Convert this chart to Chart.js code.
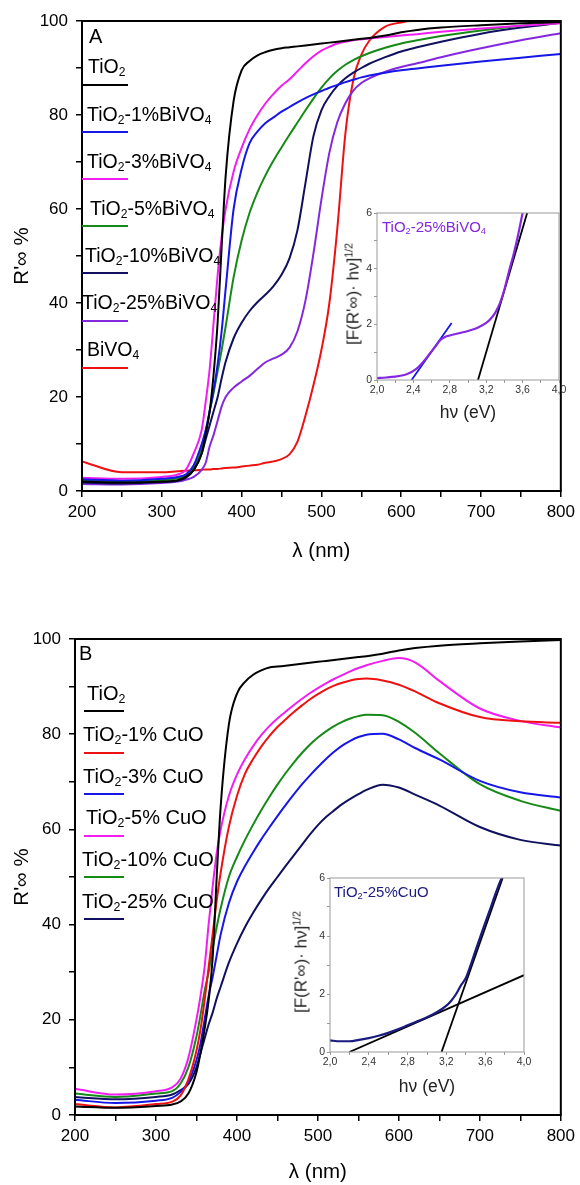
<!DOCTYPE html>
<html lang="es">
<head>
<meta charset="utf-8">
<title>Reflectancia difusa TiO2-BiVO4 y TiO2-CuO</title>
<script src="https://cdn.jsdelivr.net/npm/chart.js@4.4.1/dist/chart.umd.min.js"></script>
<style>
  html, body { margin: 0; padding: 0; background: #fff; }
  #lienzo { position: relative; width: 580px; height: 1185px; overflow: hidden;
            font-family: "Liberation Sans", Arial, Helvetica, sans-serif; color: #000; }
  #lienzo canvas { position: absolute; }
  .txt { position: absolute; white-space: nowrap; line-height: 1; }
  .txt sub { font-size: 0.62em; vertical-align: -0.22em; line-height: 0; }
  .txt sup { font-size: 0.62em; vertical-align: 0.55em; line-height: 0; }
  .rot { transform: translate(-50%, -50%) rotate(-90deg); }
  .linea { position: absolute; height: 2px; }
</style>
</head>
<body>
<div id="lienzo">
  <canvas id="panelA"></canvas>
  <canvas id="insetA"></canvas>
  <canvas id="panelB"></canvas>
  <canvas id="insetB"></canvas>
</div>
<script>
// Longitudes de onda (nm) comunes a todas las curvas de reflectancia
const longitudOnda = [200, 250, 300, 320, 330, 340, 350, 355, 360, 365, 370, 375, 380, 390, 400, 410, 420, 430, 440, 450,
                      460, 470, 480, 490, 500, 510, 520, 530, 540, 550, 560, 580, 600, 620, 650, 700, 750, 800];

// Panel A: TiO2 - BiVO4 (R'oo %)
const a_TiO2   = [2.0, 1.8, 2.0, 2.3, 3.0, 4.5, 8, 12, 17, 25, 36, 52, 67, 83, 89.5, 91.5, 92.7, 93.4, 93.9, 94.2,
                  94.4, 94.6, 94.8, 95.0, 95.2, 95.4, 95.6, 95.8, 96.0, 96.2, 96.4, 96.9, 97.6, 98.1, 98.6, 99.1, 99.5, 99.8];
const a_Bi1    = [2.5, 2.2, 2.6, 3.0, 3.5, 5.5, 10, 13, 17, 21.5, 27, 34, 43, 60, 68.5, 74, 76.5, 78.3, 79.5, 80.7,
                  81.7, 82.7, 83.6, 84.4, 85.1, 85.8, 86.4, 87.0, 87.5, 88.0, 88.4, 89.0, 89.5, 89.9, 90.5, 91.4, 92.2, 93.0];
const a_Bi3    = [2.8, 2.6, 3.0, 3.5, 4.5, 8, 13, 19, 26, 36, 46, 54, 60, 68, 73, 77, 80, 82.5, 84.5, 86.2,
                  87.6, 89.3, 91.0, 92.5, 93.7, 94.5, 95.2, 95.6, 95.9, 96.1, 96.3, 96.6, 96.9, 97.2, 97.7, 98.4, 99.0, 99.5];
const a_Bi5    = [2.3, 2.0, 2.3, 2.7, 3.2, 5, 9, 12.5, 17, 21, 25.5, 30, 35, 45.5, 53.3, 59.2, 63.6, 67.2, 70.3, 73.1,
                  75.8, 78.4, 81, 83.5, 85.8, 87.8, 89.4, 90.7, 91.7, 92.5, 93.2, 94.3, 95.2, 95.9, 96.8, 98.0, 99.0, 99.8];
const a_Bi10   = [1.8, 1.6, 1.9, 2.2, 2.8, 4.5, 8, 11, 14, 17, 20, 24, 27.5, 32.5, 35.8, 38.3, 40.2, 41.8, 43.6, 46,
                  49.5, 55.5, 65.5, 75.5, 81, 84, 86.2, 87.8, 89, 90, 90.9, 92.3, 93.5, 94.4, 95.6, 97.3, 98.6, 99.6];
const a_Bi25   = [1.5, 1.4, 1.7, 2.0, 2.4, 3, 4.5, 6, 9.5, 12, 15, 18, 20, 22, 23.3, 24.5, 26, 27.4, 28.2, 29,
                  30.5, 34, 40.5, 50.5, 62, 72, 78.5, 82.5, 85.2, 86.8, 87.8, 89.2, 90.2, 91, 92.3, 94.2, 95.9, 97.4];
const a_BiVO4  = [6.3, 4.0, 4.0, 4.2, 4.3, 4.4, 4.5, 4.6, 4.6, 4.7, 4.7, 4.8, 4.9, 5.0, 5.2, 5.4, 5.6, 6.0, 6.3, 6.8,
                  7.8, 10.5, 16, 22.5, 30, 40, 56, 76, 87.5, 92.8, 95.8, 98.8, 99.7, 100.2, null, null, null, null];

// Panel B: TiO2 - CuO (R'oo %)
const b_TiO2   = [1.8, 1.5, 1.9, 2.2, 2.8, 4.5, 9, 13, 18, 24, 33, 50, 65, 82, 88.5, 91, 92.5, 93.4, 94.0, 94.2,
                  94.4, 94.6, 94.8, 95.0, 95.2, 95.4, 95.6, 95.8, 96.0, 96.2, 96.4, 96.9, 97.6, 98.1, 98.6, 99.1, 99.5, 99.8];
const b_Cu1    = [2.3, 1.6, 2.3, 2.8, 4, 7.5, 13.5, 18, 24, 31, 38, 45, 51, 60.5, 67, 71.7, 74.8, 77.4, 79.6, 81.5,
                  83.1, 84.6, 86, 87.3, 88.4, 89.4, 90.2, 90.8, 91.3, 91.6, 91.7, 91.3, 90.4, 89, 86.5, 83.6, 82.7, 82.4];
const b_Cu3    = [3.2, 2.5, 3.0, 3.6, 4.8, 7, 11.5, 15, 20, 25, 29, 33.5, 38, 44.5, 49, 52.3, 55.2, 57.9, 60.4, 62.8,
                  65.1, 67.3, 69.4, 71.3, 73.1, 74.8, 76.3, 77.6, 78.6, 79.4, 79.9, 80.1, 78.9, 77.1, 74.7, 70.2, 67.8, 66.7];
const b_Cu5    = [5.5, 4.3, 5.0, 5.8, 7.5, 12, 20, 25, 31, 40, 48, 55, 60, 67, 71.5, 74.8, 77.5, 79.8, 81.7, 83.3,
                  84.7, 86.1, 87.4, 88.6, 89.7, 90.7, 91.6, 92.4, 93.2, 93.9, 94.5, 95.4, 96, 95.1, 91.2, 85.4, 82.8, 81.4];
const b_Cu10   = [4.5, 3.8, 4.5, 5.0, 6.5, 10, 16.5, 21, 26, 30, 35, 39.5, 43.5, 50, 54.2, 57.8, 61, 64, 66.8, 69.4,
                  71.8, 74, 76, 77.8, 79.3, 80.6, 81.7, 82.6, 83.3, 83.8, 84.1, 84, 82.6, 80.3, 76, 69.5, 66, 63.9];
const b_Cu25   = [3.8, 3.3, 3.8, 4.3, 5.2, 6.5, 10, 13, 16, 19, 21.5, 24.5, 27, 32, 36, 39.5, 42.5, 45.2, 47.7, 50,
                  52.3, 54.5, 56.7, 58.9, 60.9, 62.6, 64, 65.3, 66.4, 67.4, 68.3, 69.4, 68.8, 67.3, 65, 60.5, 57.8, 56.6];

const nombresA = ['TiO2', 'TiO2-1%BiVO4', 'TiO2-3%BiVO4', 'TiO2-5%BiVO4', 'TiO2-10%BiVO4', 'TiO2-25%BiVO4', 'BiVO4'];
const coloresA = ['#000000', '#1616e6', '#f01ef0', '#168a16', '#10105e', '#8428e0', '#ee1111'];
const nombresB = ['TiO2', 'TiO2-1% CuO', 'TiO2-3% CuO', 'TiO2-5% CuO', 'TiO2-10% CuO', 'TiO2-25% CuO'];
const coloresB = ['#000000', '#ee1111', '#1616e6', '#f01ef0', '#168a16', '#10105e'];

// Ejes principales
const ticksLongitud = [200, 300, 400, 500, 600, 700, 800];
const ticksR = [0, 20, 40, 60, 80, 100];

// Insets: [F(R'oo)·hv]^1/2 frente a hv (eV)
const hvA = [2.0, 2.1, 2.2, 2.3, 2.35, 2.4, 2.45, 2.5, 2.55, 2.6, 2.65, 2.7, 2.75, 2.8, 2.9, 3.0, 3.1, 3.2, 3.25,
             3.3, 3.35, 3.4, 3.45, 3.5, 3.55, 3.6];
const kmA = [0.07, 0.09, 0.12, 0.18, 0.24, 0.33, 0.45, 0.62, 0.82, 1.03, 1.24, 1.45, 1.55, 1.6, 1.68, 1.76, 1.87,
             2.05, 2.2, 2.42, 2.75, 3.25, 3.9, 4.5, 5.2, 6.0];
const tangenteA1_hv = [2.38, 2.82];
const tangenteA1_km = [0, 2.05];
const tangenteA2_hv = [3.11, 3.65];
const tangenteA2_km = [0, 6];

const hvB = [2.0, 2.1, 2.2, 2.3, 2.4, 2.5, 2.6, 2.7, 2.8, 2.9, 3.0, 3.1, 3.2, 3.25, 3.3, 3.35, 3.4, 3.45, 3.5,
             3.55, 3.6, 3.65, 3.7, 3.75, 3.77];
const kmB = [0.4, 0.37, 0.37, 0.42, 0.48, 0.56, 0.66, 0.78, 0.92, 1.06, 1.2, 1.37, 1.6, 1.77, 2.0, 2.3, 2.55, 3.0,
             3.5, 3.98, 4.45, 4.92, 5.4, 5.85, 6.0];
const tangenteB1_hv = [2.2, 4.0];
const tangenteB1_km = [0, 2.65];
const tangenteB2_hv = [3.15, 3.78];
const tangenteB2_km = [0, 6];

const ticksHv = ['2,0', '2,4', '2,8', '3,2', '3,6', '4,0'];
const ticksKm = [0, 2, 4, 6];

const FUENTE = '"Liberation Sans", Arial, Helvetica, sans-serif';
Chart.defaults.font.family = FUENTE;
Chart.defaults.color = '#000';

// Marco completo alrededor del area de trazado
const marcoPlugin = {
    id: 'marco',
    afterDatasetsDraw(chart, args, opts) {
        const { ctx, chartArea: a } = chart;
        ctx.save();
        ctx.strokeStyle = opts.color || '#000';
        ctx.lineWidth = opts.width || 1;
        ctx.strokeRect(a.left, a.top, a.right - a.left, a.bottom - a.top);
        ctx.restore();
    }
};
Chart.register(marcoPlugin);

function ubicarCanvas(id, left, top, width, height) {
    const c = document.getElementById(id);
    c.width = width;
    c.height = height;
    c.style.left = left + 'px';
    c.style.top = top + 'px';
    c.style.width = width + 'px';
    c.style.height = height + 'px';
    return c;
}

function puntos(xs, ys) {
    return xs.map((x, i) => ({ x: x, y: ys[i] }));
}

function graficoPrincipal(canvas, series, nombres, colores, caja) {
    return new Chart(canvas, {
        type: 'line',
        data: {
            datasets: series.map((serie, i) => ({
                label: nombres[i],
                data: puntos(longitudOnda, serie),
                borderColor: colores[i],
                borderWidth: 2,
                pointRadius: 0,
                fill: false,
                cubicInterpolationMode: 'monotone',
                spanGaps: false
            }))
        },
        options: {
            responsive: false,
            animation: false,
            events: [],
            layout: { padding: { top: caja.top, right: caja.right, left: 0, bottom: 0 } },
            plugins: {
                legend: { display: false },
                tooltip: { enabled: false },
                marco: { color: '#000', width: 2 }
            },
            scales: {
                x: {
                    type: 'linear', min: 200, max: 800,
                    afterFit: s => { s.height = caja.xAltura; },
                    border: { display: false },
                    grid: { drawOnChartArea: false, drawTicks: true, tickLength: 6, color: '#000', lineWidth: 1.5 },
                    ticks: {
                        stepSize: 50, maxRotation: 0, autoSkip: false, padding: 5,
                        font: { size: 17 },
                        callback: v => ticksLongitud.includes(v) ? String(v) : ''
                    },
                    title: {
                        display: true, text: 'λ (nm)', font: { size: 20.5 },
                        padding: { top: 0, bottom: caja.tituloX }
                    }
                },
                y: {
                    type: 'linear', min: 0, max: 100,
                    afterFit: s => { s.width = caja.yAncho; },
                    border: { display: false },
                    grid: { drawOnChartArea: false, drawTicks: true, tickLength: 6, color: '#000', lineWidth: 1.5 },
                    ticks: {
                        stepSize: 10, autoSkip: false, padding: 8,
                        font: { size: 17 },
                        callback: v => ticksR.includes(v) ? String(v) : ''
                    },
                    title: {
                        display: true, text: "R'∞ %", font: { size: 20.5 },
                        padding: { top: 10, bottom: 0 }
                    }
                }
            }
        }
    });
}

function graficoInset(canvas, curva, colorCurva, tangentes, caja) {
    const datasets = [{
        data: puntos(curva.hv, curva.km),
        borderColor: colorCurva,
        borderWidth: 2.2,
        pointRadius: 0,
        cubicInterpolationMode: 'monotone'
    }];
    tangentes.forEach(t => {
        datasets.push({
            data: puntos(t.hv, t.km),
            borderColor: t.color,
            borderWidth: 1.8,
            pointRadius: 0
        });
    });
    return new Chart(canvas, {
        type: 'line',
        data: { datasets: datasets },
        options: {
            responsive: false,
            animation: false,
            events: [],
            layout: { padding: { top: caja.top, right: caja.right, left: 0, bottom: 0 } },
            plugins: {
                legend: { display: false },
                tooltip: { enabled: false },
                marco: { color: '#9a9a9a', width: 1 }
            },
            scales: {
                x: {
                    type: 'linear', min: 2, max: 4,
                    afterFit: s => { s.height = caja.xAltura; },
                    border: { display: false },
                    grid: { drawOnChartArea: false, drawTicks: true, tickLength: 3, color: '#9a9a9a' },
                    ticks: {
                        stepSize: 0.2, maxRotation: 0, autoSkip: false, padding: 1,
                        color: '#333', font: { size: 10.5 },
                        callback: v => {
                            const k = Math.round((v - 2) * 10);
                            return k % 4 === 0 ? ticksHv[k / 4] : '';
                        }
                    },
                    title: {
                        display: true, text: 'hν (eV)', font: { size: 17.5 }, color: '#222',
                        padding: { top: 0, bottom: caja.tituloX }
                    }
                },
                y: {
                    type: 'linear', min: 0, max: 6,
                    afterFit: s => { s.width = caja.yAncho; },
                    border: { display: false },
                    grid: { drawOnChartArea: false, drawTicks: true, tickLength: 3, color: '#9a9a9a' },
                    ticks: {
                        stepSize: 1, autoSkip: false, padding: 2,
                        color: '#333', font: { size: 10.5 },
                        callback: v => ticksKm.includes(v) ? String(v) : ''
                    }
                }
            }
        }
    });
}

// Texto con subindices (TiO2 -> TiO<sub>2</sub>)
function formula(s) {
    return s.replace(/([A-Za-z])(\d)/g, '$1<sub>$2</sub>');
}

function agregarTexto(html, x, base, size, color, clase) {
    const d = document.createElement('div');
    d.className = 'txt' + (clase ? ' ' + clase : '');
    d.innerHTML = html;
    d.style.fontSize = size + 'px';
    d.style.color = color || '#000';
    d.style.left = x + 'px';
    d.style.top = (base - 0.8465 * size) + 'px';
    document.getElementById('lienzo').appendChild(d);
    return d;
}

function agregarRotado(html, cx, cy, size, color) {
    const d = document.createElement('div');
    d.className = 'txt rot';
    d.innerHTML = html;
    d.style.fontSize = size + 'px';
    d.style.color = color || '#000';
    d.style.left = cx + 'px';
    d.style.top = cy + 'px';
    document.getElementById('lienzo').appendChild(d);
}

function agregarLeyenda(nombres, colores, cfg) {
    const lienzo = document.getElementById('lienzo');
    nombres.forEach((nombre, i) => {
        const yLinea = cfg.y0 + i * cfg.paso;
        agregarTexto(formula(nombre), cfg.xTexto[i], yLinea - cfg.subeTexto, cfg.size);
        const l = document.createElement('div');
        l.className = 'linea';
        l.style.left = cfg.x1 + 'px';
        l.style.width = (cfg.x2 - cfg.x1) + 'px';
        l.style.top = (yLinea - 1) + 'px';
        l.style.background = colores[i];
        lienzo.appendChild(l);
    });
}

document.addEventListener('DOMContentLoaded', () => {
    // Panel A
    graficoPrincipal(ubicarCanvas('panelA', 0, 0, 580, 575),
        [a_TiO2, a_Bi1, a_Bi3, a_Bi5, a_Bi10, a_Bi25, a_BiVO4], nombresA, coloresA,
        { top: 21, right: 15, yAncho: 82, xAltura: 84, tituloX: 11 });

    graficoInset(ubicarCanvas('insetA', 330, 195, 240, 232),
        { hv: hvA, km: kmA }, '#8428e0',
        [{ hv: tangenteA1_hv, km: tangenteA1_km, color: '#1616e6' },
         { hv: tangenteA2_hv, km: tangenteA2_km, color: '#000' }],
        { top: 18, right: 11, yAncho: 47, xAltura: 47, tituloX: 3.5 });

    // Panel B
    graficoPrincipal(ubicarCanvas('panelB', 0, 600, 580, 585),
        [b_TiO2, b_Cu1, b_Cu3, b_Cu5, b_Cu10, b_Cu25], nombresB, coloresB,
        { top: 39, right: 15, yAncho: 75, xAltura: 70, tituloX: 0 });

    graficoInset(ubicarCanvas('insetB', 285, 860, 250, 245),
        { hv: hvB, km: kmB }, '#1a1a80',
        [{ hv: tangenteB1_hv, km: tangenteB1_km, color: '#000' },
         { hv: tangenteB2_hv, km: tangenteB2_km, color: '#000' }],
        { top: 18, right: 11, yAncho: 45, xAltura: 53, tituloX: 7.5 });

    // Letras de panel
    agregarTexto('A', 89, 43, 20);
    agregarTexto('B', 79, 660, 20);

    // Leyendas
    agregarLeyenda(nombresA, coloresA, {
        y0: 85, paso: 47.1, x1: 82, x2: 128, subeTexto: 11, size: 19.5,
        xTexto: [88, 87, 87, 90, 85, 82, 87]
    });
    agregarLeyenda(nombresB, coloresB, {
        y0: 711, paso: 41.6, x1: 84, x2: 124, subeTexto: 11.5, size: 20,
        xTexto: [87, 83, 83, 86, 82, 82]
    });

    // Rotulos de los insets
    agregarTexto(formula('TiO2-25%BiVO4'), 382, 231.5, 15, '#8428e0');
    agregarTexto(formula('TiO2-25%CuO'), 334, 897, 15, '#1a1a80');
    agregarRotado("[F(R'∞)· hν]<sup>1/2</sup>", 353, 294, 17, '#222');
    agregarRotado("[F(R'∞)· hν]<sup>1/2</sup>", 301, 962, 17, '#222');
});
</script>
</body>
</html>
